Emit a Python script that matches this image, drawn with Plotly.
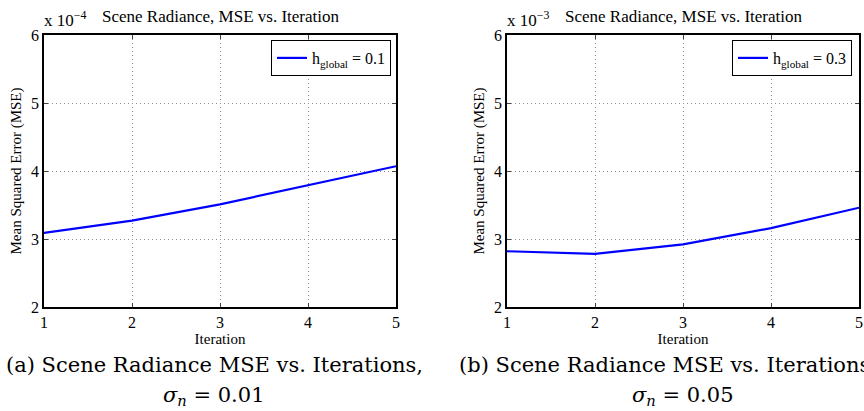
import plotly.graph_objects as go

iterations = [1, 2, 3, 4, 5]
# MSE mantissas (left: x 1e-4, right: x 1e-3)
mse_a = [3.09, 3.27, 3.51, 3.79, 4.07]
mse_b = [2.82, 2.78, 2.92, 3.16, 3.46]
y_ticks = [2, 3, 4, 5, 6]
x_ticks = [1, 2, 3, 4, 5]
legend_a = "h<sub>global</sub> = 0.1"
legend_b = "h<sub>global</sub> = 0.3"
title_text = "Scene Radiance, MSE vs. Iteration"
exp_a = "x 10<sup>−4</sup>"
exp_b = "x 10<sup>−3</sup>"
caption_a = ["(a) Scene Radiance MSE vs. Iterations,", "<i>σ<sub>n</sub></i> = 0.01"]
caption_b = ["(b) Scene Radiance MSE vs. Iterations,", "<i>σ<sub>n</sub></i> = 0.05"]

W, H = 864, 411
def px(x):
    return x / W
def py(y):
    return 1 - y / H

SERIF = "Liberation Serif, Times New Roman, serif"
axes_font = dict(family=SERIF, size=16, color="black")
fig = go.Figure()
fig.add_trace(go.Scatter(x=iterations, y=mse_a, mode="lines", name=legend_a,
                         line=dict(color="#0000ff", width=2.2), xaxis="x", yaxis="y", legend="legend"))
fig.add_trace(go.Scatter(x=iterations, y=mse_b, mode="lines", name=legend_b,
                         line=dict(color="#0000ff", width=2.2), xaxis="x2", yaxis="y2", legend="legend2"))

common_x = dict(range=[1, 5], tickvals=x_ticks, ticks="inside", ticklen=4, showline=True,
                linecolor="black", linewidth=1.5, mirror="ticks", showgrid=True, gridcolor="#8a8a8a",
                griddash="1px,3px", gridwidth=1, zeroline=False, tickfont=axes_font, automargin=False,
                title=dict(text="Iteration", font=dict(family=SERIF, size=15, color="black"), standoff=0))
common_y = dict(range=[2, 6], tickvals=y_ticks, ticks="inside", ticklen=4, showline=True,
                linecolor="black", linewidth=1.5, mirror="ticks", showgrid=True, gridcolor="#8a8a8a",
                griddash="1px,3px", gridwidth=1, zeroline=False, tickfont=axes_font, automargin=False,
                title=dict(text="Mean Squared Error (MSE)", font=dict(family=SERIF, size=15, color="black"), standoff=6))

dom_y = [py(307), py(35)]
fig.update_layout(
    width=W, height=H, margin=dict(l=0, r=0, t=0, b=0),
    paper_bgcolor="white", plot_bgcolor="white",
    xaxis=dict(domain=[px(44), px(396)], anchor="y", **common_x),
    yaxis=dict(domain=dom_y, anchor="x", **common_y),
    xaxis2=dict(domain=[px(507), px(859)], anchor="y2", **common_x),
    yaxis2=dict(domain=dom_y, anchor="x2", **common_y),
    legend=dict(x=px(391), y=py(40), xanchor="right", yanchor="top", bordercolor="black", borderwidth=1,
                bgcolor="white", font=dict(family=SERIF, size=16, color="black"),
                itemwidth=30, tracegroupgap=0),
    legend2=dict(x=px(852), y=py(40), xanchor="right", yanchor="top", bordercolor="black", borderwidth=1,
                 bgcolor="white", font=dict(family=SERIF, size=16, color="black"),
                 itemwidth=30, tracegroupgap=0),
    showlegend=True,
)

ann = []
for cx, exp, x0 in [(220, exp_a, 44), (683, exp_b, 507)]:
    ann.append(dict(text=title_text, x=px(cx), y=py(17), xref="paper", yref="paper", xanchor="center",
                    yanchor="middle", showarrow=False, font=dict(family=SERIF, size=17, color="black")))
    ann.append(dict(text=exp, x=px(x0 - 2), y=py(32), xref="paper", yref="paper", xanchor="left",
                    yanchor="bottom", showarrow=False, font=dict(family=SERIF, size=17, color="black")))
cap_font = dict(family="DejaVu Serif", size=21, color="black")
ann.append(dict(text=caption_a[0], x=px(214), y=py(365), xref="paper", yref="paper", xanchor="center",
                yanchor="middle", showarrow=False, font=cap_font))
ann.append(dict(text=caption_a[1], x=px(214), y=py(396), xref="paper", yref="paper", xanchor="center",
                yanchor="middle", showarrow=False, font=cap_font))
ann.append(dict(text=caption_b[0], x=px(457), y=py(365), xref="paper", yref="paper", xanchor="left",
                yanchor="middle", showarrow=False, font=cap_font))
ann.append(dict(text=caption_b[1], x=px(683), y=py(396), xref="paper", yref="paper", xanchor="center",
                yanchor="middle", showarrow=False, font=cap_font))
fig.update_layout(annotations=ann)

fig.write_html("out.html", config={"displayModeBar": False},
               post_script="document.body.style.margin='0';document.body.style.padding='0';")
